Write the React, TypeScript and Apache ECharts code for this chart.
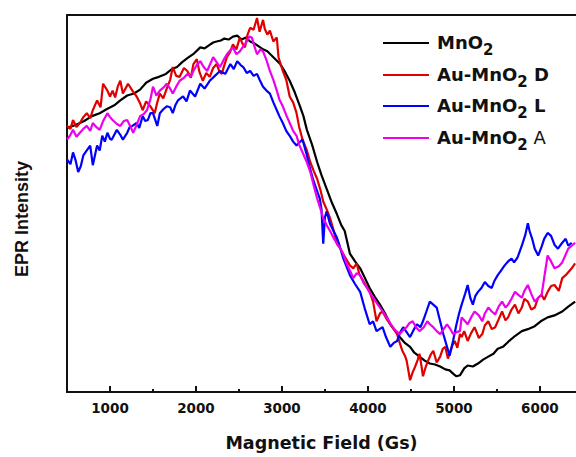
import React, { useEffect, useRef } from "react";
import * as echarts from "echarts";

// Magnetic field (Gs) and EPR intensity (arb. units)
const fieldMnO2 = [500, 600, 700, 790, 880, 960, 1050, 1120, 1200, 1280, 1350, 1420, 1500, 1570, 1650, 1720, 1780, 1840, 1900, 1980, 2050, 2100, 2150, 2200, 2240, 2290, 2330, 2380, 2430, 2480, 2530, 2580, 2630, 2680, 2730, 2780, 2830, 2900, 2980, 3030, 3090, 3150, 3210, 3250, 3290, 3350, 3410, 3460, 3520, 3580, 3640, 3690, 3730, 3790, 3850, 3910, 3960, 4020, 4080, 4140, 4200, 4260, 4310, 4370, 4430, 4490, 4540, 4600, 4660, 4720, 4780, 4840, 4900, 4950, 5000, 5030, 5070, 5120, 5160, 5220, 5280, 5340, 5400, 5460, 5510, 5570, 5630, 5710, 5790, 5860, 5940, 6010, 6090, 6170, 6260, 6330, 6410];
const intensityMnO2 = [269, 272, 276, 281, 284, 288, 292, 297, 302, 304, 308, 315, 319, 321, 324, 329, 331, 336, 340, 345, 351, 350, 353, 356, 357, 358, 360, 359, 362, 363, 359, 361, 357, 355, 352, 349, 347, 341, 334, 327, 317, 305, 291, 281, 267, 252, 234, 221, 207, 193, 181, 170, 164, 141, 133, 126, 117, 106, 97, 89, 80, 69, 63, 56, 50, 46, 40, 36, 32, 29, 28, 26, 23, 22, 18, 16, 17, 24, 27, 26, 29, 33, 36, 39, 44, 46, 51, 57, 62, 64, 67, 72, 76, 78, 82, 87, 92];

const fieldD = [500, 540, 570, 610, 650, 690, 730, 770, 800, 850, 890, 920, 970, 1000, 1030, 1060, 1090, 1120, 1150, 1180, 1210, 1260, 1310, 1350, 1380, 1420, 1470, 1520, 1550, 1580, 1620, 1660, 1700, 1730, 1770, 1810, 1860, 1900, 1940, 1970, 2010, 2040, 2080, 2120, 2160, 2200, 2240, 2270, 2300, 2330, 2360, 2400, 2430, 2470, 2510, 2540, 2570, 2600, 2630, 2670, 2710, 2740, 2780, 2800, 2830, 2860, 2900, 2940, 2960, 3010, 3050, 3090, 3130, 3170, 3200, 3240, 3290, 3330, 3370, 3410, 3450, 3480, 3520, 3560, 3600, 3640, 3680, 3710, 3750, 3790, 3830, 3870, 3900, 3940, 3980, 4020, 4060, 4100, 4140, 4170, 4220, 4260, 4300, 4340, 4370, 4400, 4430, 4450, 4470, 4490, 4520, 4550, 4580, 4600, 4620, 4640, 4670, 4700, 4730, 4760, 4800, 4840, 4870, 4900, 4930, 4950, 4980, 5010, 5040, 5070, 5090, 5120, 5160, 5200, 5240, 5290, 5330, 5360, 5400, 5440, 5480, 5520, 5560, 5600, 5630, 5670, 5710, 5750, 5790, 5820, 5860, 5900, 5940, 5980, 6020, 6050, 6090, 6130, 6170, 6220, 6260, 6300, 6330, 6370, 6410];
const intensityD = [271, 268, 277, 270, 274, 280, 284, 279, 287, 297, 290, 314, 307, 301, 307, 300, 311, 317, 304, 309, 314, 307, 301, 294, 287, 296, 291, 284, 295, 304, 299, 309, 318, 331, 322, 321, 330, 327, 320, 334, 339, 326, 317, 325, 321, 330, 334, 327, 324, 333, 341, 347, 354, 349, 361, 355, 351, 364, 371, 369, 381, 367, 379, 370, 364, 368, 357, 361, 341, 327, 318, 301, 295, 284, 270, 257, 246, 234, 225, 217, 205, 194, 186, 177, 165, 151, 146, 141, 135, 129, 126, 131, 120, 114, 108, 102, 92, 72, 80, 82, 74, 69, 64, 59, 50, 42, 37, 32, 22, 12, 20, 26, 33, 39, 28, 16, 25, 32, 38, 42, 30, 36, 44, 46, 34, 39, 47, 52, 45, 59, 56, 62, 52, 60, 66, 55, 59, 68, 72, 64, 66, 74, 82, 73, 76, 84, 89, 80, 86, 95, 92, 84, 86, 96, 99, 94, 102, 108, 109, 103, 116, 119, 122, 126, 131];

const fieldL = [500, 540, 570, 600, 630, 660, 690, 730, 770, 800, 850, 880, 910, 940, 970, 1000, 1020, 1050, 1080, 1120, 1150, 1200, 1230, 1260, 1310, 1340, 1380, 1410, 1440, 1470, 1500, 1550, 1580, 1620, 1660, 1700, 1730, 1760, 1790, 1850, 1890, 1930, 1960, 1990, 2050, 2100, 2160, 2220, 2280, 2340, 2400, 2440, 2480, 2520, 2550, 2590, 2630, 2670, 2710, 2740, 2780, 2820, 2860, 2900, 2940, 2970, 3010, 3050, 3090, 3130, 3170, 3200, 3240, 3290, 3320, 3360, 3400, 3440, 3460, 3480, 3500, 3520, 3560, 3600, 3640, 3670, 3710, 3750, 3790, 3850, 3910, 3960, 4020, 4060, 4100, 4170, 4210, 4260, 4300, 4340, 4370, 4410, 4450, 4490, 4530, 4570, 4610, 4640, 4680, 4720, 4760, 4800, 4840, 4880, 4920, 4950, 4990, 5030, 5060, 5090, 5130, 5160, 5190, 5220, 5250, 5280, 5320, 5360, 5400, 5440, 5470, 5510, 5550, 5590, 5630, 5670, 5700, 5740, 5790, 5830, 5860, 5880, 5910, 5940, 5980, 6020, 6050, 6090, 6130, 6170, 6210, 6260, 6300, 6330, 6370, 6410];
const intensityL = [237, 232, 244, 236, 224, 230, 241, 246, 251, 231, 251, 246, 261, 255, 264, 258, 257, 262, 267, 262, 257, 264, 270, 271, 274, 269, 281, 276, 277, 284, 284, 271, 284, 288, 291, 290, 284, 292, 297, 301, 296, 307, 304, 301, 314, 309, 317, 322, 327, 324, 334, 329, 337, 333, 331, 325, 327, 322, 324, 318, 311, 307, 304, 295, 287, 281, 274, 266, 261, 255, 251, 254, 257, 241, 230, 217, 207, 197, 186, 151, 178, 184, 171, 164, 157, 149, 137, 128, 119, 110, 102, 86, 69, 72, 62, 66, 56, 46, 50, 52, 60, 66, 61, 56, 63, 69, 66, 72, 82, 92, 89, 86, 72, 58, 46, 37, 52, 69, 80, 89, 100, 109, 96, 89, 98, 102, 106, 112, 108, 106, 113, 119, 124, 129, 133, 136, 132, 137, 149, 160, 172, 164, 156, 146, 139, 148, 156, 162, 159, 150, 146, 152, 156, 149, 152];

const fieldA = [500, 540, 570, 610, 650, 690, 730, 770, 800, 840, 880, 920, 970, 1000, 1030, 1080, 1120, 1160, 1200, 1240, 1270, 1310, 1350, 1390, 1430, 1470, 1500, 1540, 1580, 1620, 1660, 1700, 1730, 1770, 1810, 1860, 1900, 1940, 1970, 2010, 2050, 2090, 2130, 2170, 2200, 2240, 2280, 2320, 2360, 2400, 2430, 2470, 2510, 2550, 2590, 2620, 2650, 2680, 2710, 2750, 2780, 2820, 2860, 2900, 2940, 2970, 3010, 3050, 3090, 3130, 3170, 3200, 3240, 3290, 3330, 3370, 3410, 3450, 3480, 3520, 3560, 3600, 3640, 3680, 3710, 3760, 3800, 3830, 3870, 3910, 3950, 3990, 4030, 4060, 4100, 4140, 4180, 4220, 4260, 4290, 4330, 4370, 4410, 4450, 4480, 4520, 4560, 4600, 4650, 4690, 4720, 4760, 4800, 4840, 4880, 4920, 4960, 4990, 5030, 5070, 5090, 5120, 5160, 5200, 5240, 5290, 5330, 5360, 5400, 5440, 5480, 5520, 5560, 5600, 5630, 5670, 5710, 5750, 5790, 5820, 5860, 5900, 5940, 5980, 6020, 6060, 6090, 6130, 6170, 6220, 6260, 6300, 6330, 6370, 6410];
const intensityA = [257, 262, 267, 260, 264, 268, 271, 266, 274, 270, 267, 276, 284, 280, 277, 273, 271, 276, 277, 270, 264, 272, 281, 283, 287, 298, 311, 302, 307, 310, 314, 309, 304, 311, 317, 320, 324, 321, 327, 333, 337, 331, 327, 335, 341, 336, 331, 338, 344, 348, 351, 344, 347, 352, 357, 362, 361, 352, 344, 349, 347, 338, 327, 318, 307, 298, 291, 282, 274, 266, 261, 252, 244, 234, 224, 210, 197, 186, 177, 170, 164, 157, 151, 146, 141, 129, 122, 116, 121, 119, 111, 106, 100, 96, 91, 86, 81, 76, 70, 66, 62, 59, 63, 66, 70, 72, 66, 62, 66, 72, 69, 66, 62, 59, 64, 69, 64, 59, 61, 62, 76, 73, 69, 76, 82, 78, 72, 80, 86, 82, 79, 87, 92, 86, 89, 95, 102, 99, 96, 103, 109, 100, 92, 96, 99, 122, 139, 133, 126, 128, 132, 140, 146, 149, 152];

const seriesNames = ["MnO2", "Au-MnO2 D", "Au-MnO2 L", "Au-MnO2 A"];
const seriesColors = ["#000000", "#e00000", "#0000ff", "#ee00ee"];
const majorTicks = [1000, 2000, 3000, 4000, 5000, 6000];
const minorTicks = [1500, 2500, 3500, 4500, 5500];

const FONT = "'DejaVu Sans', 'Liberation Sans', Arial, sans-serif";
const FONT_Y = "'Liberation Sans', Arial, Helvetica, sans-serif";

function zip(xs: number[], ys: number[]) {
  return xs.map((x, i) => [x, ys[i]]);
}

export default function App() {
  const ref = useRef<HTMLDivElement>(null);
  useEffect(() => {
    if (!ref.current) return;
    const chart = echarts.init(ref.current, undefined, { renderer: "svg" });
    const fields = [fieldMnO2, fieldD, fieldL, fieldA];
    const vals = [intensityMnO2, intensityD, intensityL, intensityA];
    const legendRows = [42, 74, 105, 137];
    const legendTexts = [
      "{b|MnO}{s|2}",
      "{b|Au-MnO}{s|2}{b| D}",
      "{b|Au-MnO}{s|2}{b| L}",
      "{b|Au-MnO}{s|2}{r| A}",
    ];
    const rich = {
      b: { fontSize: 18, fontWeight: "bold", fontFamily: FONT, lineHeight: 30, fill: "#111", color: "#111" },
      r: { fontSize: 18, fontWeight: "normal", fontFamily: FONT, lineHeight: 30, fill: "#111", color: "#111" },
      s: { fontSize: 15, fontWeight: "bold", fontFamily: FONT, lineHeight: 16, verticalAlign: "bottom", fill: "#111", color: "#111" },
    };
    const graphics: any[] = [];
    legendRows.forEach((y, i) => {
      graphics.push({
        type: "line",
        shape: { x1: 383, y1: y + 1, x2: 429, y2: y + 1 },
        style: { stroke: seriesColors[i], lineWidth: 2 },
        z: 100,
      });
      graphics.push({
        type: "text",
        x: 437,
        y: y,
        style: {
          text: legendTexts[i],
          rich,
          verticalAlign: "middle",
          align: "left",
          fill: "#111",
        },
        z: 100,
      });
    });
    graphics.push({
      type: "text",
      x: 22,
      y: 219,
      rotation: Math.PI / 2,
      style: {
        text: "EPR Intensity",
        fontSize: 18,
        fontWeight: "bold",
        fontFamily: FONT_Y,
        fill: "#111",
        align: "center",
        verticalAlign: "middle",
      },
    });

    chart.setOption({
      animation: false,
      backgroundColor: "#ffffff",
      grid: { left: 67, top: 15, right: 0, bottom: 58, containLabel: false },
      xAxis: [
        {
          type: "value",
          min: 500,
          max: 6420,
          position: "bottom",
          axisLine: { onZero: false, lineStyle: { color: "#111", width: 2 } },
          axisTick: { inside: true, length: 6, customValues: majorTicks, lineStyle: { color: "#111", width: 2 } },
          axisLabel: {
            customValues: majorTicks,
            formatter: (v: number) => String(v),
            fontSize: 13.5,
            fontWeight: "bold",
            fontFamily: FONT,
            color: "#111",
            margin: 9,
          },
          splitLine: { show: false },
          name: "Magnetic Field (Gs)",
          nameLocation: "middle",
          nameGap: 42,
          nameTextStyle: { fontSize: 17.5, fontWeight: "bold", fontFamily: FONT, color: "#111" },
        },
        {
          type: "value",
          min: 500,
          max: 6420,
          position: "bottom",
          axisLine: { show: false, onZero: false },
          axisTick: { inside: true, length: 3, customValues: minorTicks, lineStyle: { color: "#111", width: 2 } },
          axisLabel: { show: false },
          splitLine: { show: false },
        },
        {
          type: "value",
          min: 500,
          max: 6420,
          position: "top",
          axisLine: { onZero: false, lineStyle: { color: "#111", width: 2 } },
          axisTick: { show: false },
          axisLabel: { show: false },
          splitLine: { show: false },
        },
      ],
      yAxis: {
        type: "value",
        min: 0,
        max: 384,
        axisLine: { show: true, onZero: false, lineStyle: { color: "#111", width: 2 } },
        axisTick: { show: false },
        axisLabel: { show: false },
        splitLine: { show: false },
      },
      series: seriesNames.map((name, i) => ({
        name,
        type: "line",
        xAxisIndex: 0,
        data: zip(fields[i], vals[i]),
        showSymbol: false,
        symbol: "none",
        lineStyle: { color: seriesColors[i], width: 2.2 },
        itemStyle: { color: seriesColors[i] },
      })),
      graphic: graphics,
    });
    return () => chart.dispose();
  }, []);
  return (
    <div
      ref={ref}
      style={{ position: "absolute", left: 0, top: 0, width: 576, height: 457, background: "#fff" }}
    />
  );
}
